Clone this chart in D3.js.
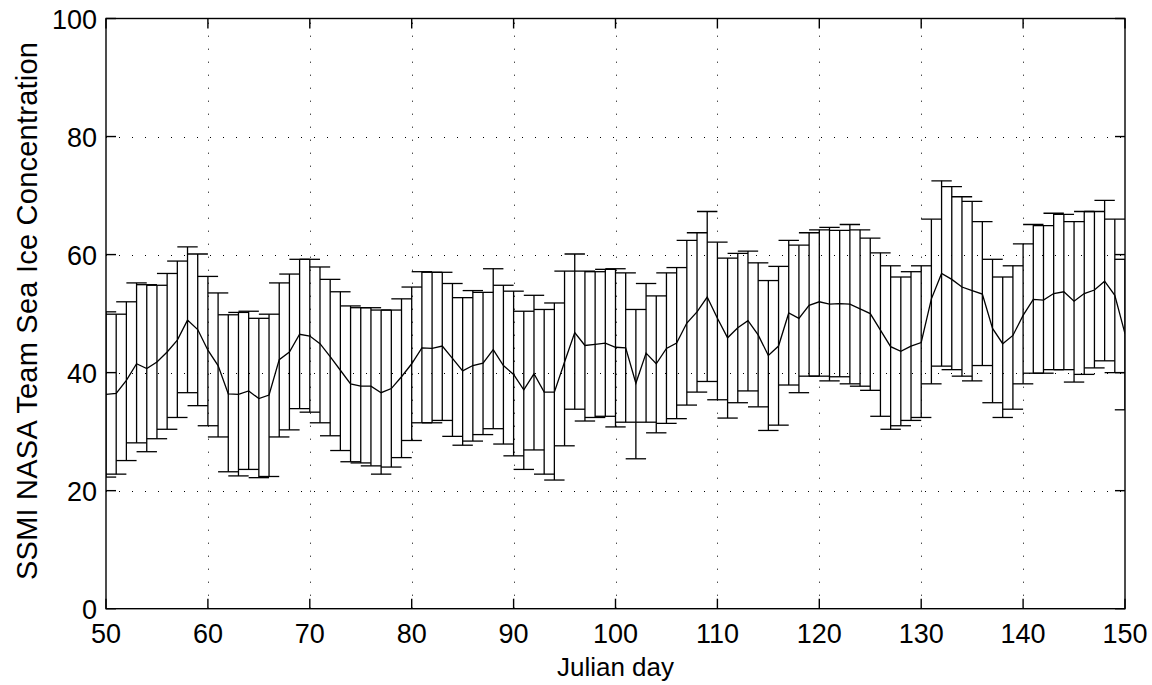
<!DOCTYPE html>
<html><head><meta charset="utf-8">
<script src="https://cdn.jsdelivr.net/npm/d3@7"></script>
<style>body{margin:0;background:#fff;} svg{display:block;} text{font-family:"Liberation Sans",Arial,Helvetica,sans-serif;}</style>
</head><body>
<svg id="chart" width="1152" height="685"></svg>
<script>
const days = [50,51,52,53,54,55,56,57,58,59,60,61,62,63,64,65,66,67,68,69,70,71,72,73,74,75,76,77,78,79,80,81,82,83,84,85,86,87,88,89,90,91,92,93,94,95,96,97,98,99,100,101,102,103,104,105,106,107,108,109,110,111,112,113,114,115,116,117,118,119,120,121,122,123,124,125,126,127,128,129,130,131,132,133,134,135,136,137,138,139,140,141,142,143,144,145,146,147,148,149,150];
const meanVals = [36.3,36.5,38.7,41.5,40.7,41.8,43.5,45.5,48.9,47.3,43.8,41.2,36.4,36.3,36.9,35.6,36.2,42.2,43.5,46.5,46.2,44.9,42.7,40.4,38.1,37.7,37.7,36.6,37.3,39.3,41.5,44.2,44.1,44.5,42.4,40.3,41.2,41.6,43.9,41.2,39.7,37.1,39.8,36.7,36.7,41.8,46.8,44.6,44.8,45.0,44.3,44.2,38.2,43.3,41.5,44.1,45.0,48.4,50.3,52.8,49.2,45.9,47.6,48.8,46.4,42.9,44.5,50.1,49.2,51.4,52.0,51.6,51.7,51.6,50.8,50.0,47.2,44.4,43.6,44.5,45.1,52.5,56.8,55.8,54.5,53.9,53.3,47.5,44.9,46.3,49.7,52.4,52.3,53.4,53.7,52.1,53.4,54.0,55.5,53.1,46.6];
const lowerVals = [22.3,22.8,25.1,28.1,26.6,28.8,30.4,32.4,36.6,34.4,31.0,29.1,23.2,22.5,23.6,22.2,22.4,29.1,30.3,33.9,33.3,31.5,29.3,26.8,24.9,24.7,24.2,22.8,24.0,25.6,28.5,31.5,31.5,31.9,29.2,27.7,28.4,29.5,30.5,27.9,25.9,23.6,26.9,22.8,21.8,27.6,33.8,31.8,32.4,32.6,30.8,31.6,25.4,31.6,29.8,31.4,32.2,34.5,36.7,38.5,35.4,32.3,34.9,36.9,34.2,30.2,31.1,37.9,36.6,39.4,39.4,38.6,39.3,38.1,37.7,37.0,32.6,30.4,31.0,31.9,32.4,38.1,41.1,40.5,39.4,38.6,41.2,34.9,32.4,33.8,38.1,39.9,39.9,40.5,40.5,38.4,39.7,40.8,42.0,40.0,33.7];
const upperVals = [50.3,49.9,52.0,55.2,54.9,54.8,56.8,58.9,61.3,60.1,56.3,53.5,49.8,50.2,50.4,49.2,49.9,55.2,56.7,59.2,59.2,57.9,55.8,53.7,51.3,51.0,51.0,50.6,50.6,52.5,54.5,57.1,57.0,57.0,55.1,52.7,53.9,53.6,57.6,54.8,53.8,50.4,53.1,50.7,51.8,57.2,60.1,57.2,57.1,57.5,57.6,56.9,50.7,55.1,53.0,56.9,57.8,62.4,63.7,67.3,62.1,59.4,60.2,60.6,58.6,55.6,58.0,62.4,61.6,63.7,64.2,64.6,64.1,65.1,64.2,62.8,60.3,58.1,56.2,57.1,58.1,66.0,72.5,71.5,69.8,69.0,65.6,59.2,56.2,58.1,61.8,65.1,64.9,67.0,66.8,65.6,67.3,67.3,69.2,66.0,59.2];
const xTicks = [50,60,70,80,90,100,110,120,130,140,150];
const yTicks = [0,20,40,60,80,100];
const xLabel = "Julian day";
const yLabel = "SSMI NASA Team Sea Ice Concentration";

const svg = d3.select("#chart");
const L = 106, R = 1125, T = 18.5, B = 608.7;
const x = d3.scaleLinear().domain([50,150]).range([L,R]);
const y = d3.scaleLinear().domain([0,100]).range([B,T]);

svg.append("defs").append("clipPath").attr("id","clip")
  .append("rect").attr("x",L).attr("y",T).attr("width",R-L).attr("height",B-T);

// grid
const grid = svg.append("g").attr("stroke","#000").attr("stroke-width",1).attr("stroke-dasharray","1,12");
grid.selectAll(".gx").data(xTicks.slice(1,-1)).enter().append("line")
  .attr("x1",d=>Math.round(x(d))+0.5).attr("x2",d=>Math.round(x(d))+0.5).attr("y1",B).attr("y2",T);
grid.selectAll(".gy").data(yTicks.slice(1,-1)).enter().append("line")
  .attr("y1",d=>Math.round(y(d))+0.5).attr("y2",d=>Math.round(y(d))+0.5).attr("x1",L).attr("x2",R);

// error bars
const data = days.map((d,i)=>({d, m:meanVals[i], lo:lowerVals[i], hi:upperVals[i]}));
const eb = svg.append("g").attr("clip-path","url(#clip)").attr("stroke","#000").attr("stroke-width",1.3).attr("fill","none");
eb.selectAll(".v").data(data).enter().append("line")
  .attr("x1",p=>x(p.d)).attr("x2",p=>x(p.d)).attr("y1",p=>y(p.lo)).attr("y2",p=>y(p.hi));
eb.selectAll(".ct").data(data).enter().append("line")
  .attr("x1",p=>x(p.d-1)).attr("x2",p=>x(p.d+1)).attr("y1",p=>y(p.hi)).attr("y2",p=>y(p.hi));
eb.selectAll(".cb").data(data).enter().append("line")
  .attr("x1",p=>x(p.d-1)).attr("x2",p=>x(p.d+1)).attr("y1",p=>y(p.lo)).attr("y2",p=>y(p.lo));
eb.append("path").datum(data).attr("stroke-width",1.3)
  .attr("d",d3.line().x(p=>x(p.d)).y(p=>y(p.m)));

// axes box
const ax = svg.append("g").attr("stroke","#000").attr("stroke-width",1.4).attr("fill","none");
ax.append("rect").attr("x",L).attr("y",T).attr("width",R-L).attr("height",B-T);
const tl = 10;
xTicks.forEach(t=>{
  ax.append("line").attr("x1",x(t)).attr("x2",x(t)).attr("y1",B).attr("y2",B-tl);
  ax.append("line").attr("x1",x(t)).attr("x2",x(t)).attr("y1",T).attr("y2",T+tl);
});
yTicks.forEach(t=>{
  ax.append("line").attr("x1",L).attr("x2",L+tl).attr("y1",y(t)).attr("y2",y(t));
  ax.append("line").attr("x1",R).attr("x2",R-tl).attr("y1",y(t)).attr("y2",y(t));
});

const fs = 27;
svg.append("g").selectAll("text").data(xTicks).enter().append("text")
  .attr("x",d=>x(d)).attr("y",B+34).attr("text-anchor","middle").attr("font-size",fs).text(d=>d);
svg.append("g").selectAll("text").data(yTicks).enter().append("text")
  .attr("x",L-9).attr("y",d=>y(d)+10).attr("text-anchor","end").attr("font-size",fs).text(d=>d);
svg.append("text").attr("x",(L+R)/2).attr("y",676).attr("text-anchor","middle").attr("font-size",26).text(xLabel);
svg.append("text").attr("transform",`translate(37,311) rotate(-90)`).attr("text-anchor","middle")
  .attr("font-size",29).attr("textLength",538).attr("lengthAdjust","spacing").text(yLabel);
</script>
</body></html>
